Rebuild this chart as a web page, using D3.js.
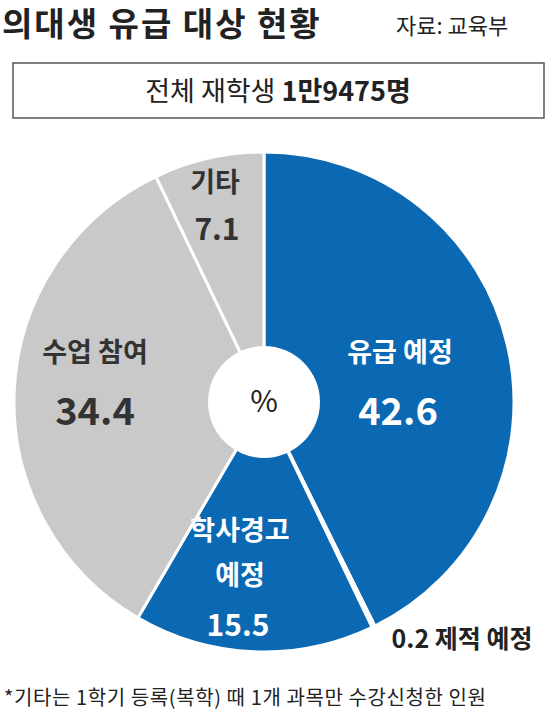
<!DOCTYPE html><html><head><meta charset="utf-8">
<script src="https://cdn.jsdelivr.net/npm/d3@7"></script>
<style>body{margin:0;background:#fff}text{font-family:"Noto Sans CJK KR","Noto Sans",sans-serif}</style></head><body>
<svg id="c" width="557" height="719"></svg>
<script>
const categories=["유급 예정","제적 예정","학사경고 예정","수업 참여","기타"];
const values=[42.6,0.2,15.5,34.4,7.1];
const colors=["#0b68b3","#0b68b3","#0b68b3","#c9c9c9","#c9c9c9"];
const svg=d3.select("#c");
svg.append("text").attr("x",2).attr("y",36).attr("font-size",33).attr("letter-spacing",2).attr("font-weight",700).attr("fill","#222").text("의대생 유급 대상 현황");
svg.append("text").attr("x",396).attr("y",34).attr("font-size",22).attr("fill","#222").text("자료: 교육부");
svg.append("rect").attr("x",13).attr("y",63).attr("width",531).attr("height",55).attr("fill","#fff").attr("stroke","#555").attr("stroke-width",1.5);
const t=svg.append("text").attr("x",278).attr("y",101).attr("text-anchor","middle").attr("font-size",27).attr("fill","#222");
t.append("tspan").text("전체 재학생 ");t.append("tspan").attr("font-weight",700).text("1만9475명");
const cx=264,cy=402,R=250;
const pie=d3.pie().sort(null).value(d=>d)(values);
const arc=d3.arc().innerRadius(0).outerRadius(R);
const g=svg.append("g").attr("transform",`translate(${cx},${cy})`);
g.selectAll("path").data(pie).join("path").attr("d",arc).attr("fill",(d,i)=>colors[i]).attr("stroke","#fff").attr("stroke-width",3);
g.append("circle").attr("r",56).attr("fill","#fff");
g.append("text").attr("y",10).attr("text-anchor","middle").attr("font-size",30).attr("fill","#222").text("%");
function lab(x,y,s,size,fill,w){svg.append("text").attr("x",x).attr("y",y).attr("text-anchor","middle").attr("font-size",size).attr("font-weight",w||700).attr("fill",fill).text(s);}
lab(400,362,categories[0],27,"#fff");lab(398,425,values[0].toFixed(1),38,"#fff");
lab(240,540,"학사경고",27,"#fff");lab(240,585,"예정",27,"#fff");lab(238,636,values[2].toFixed(1),30,"#fff");
lab(95,362,categories[3],27,"#333");lab(95,425,values[3].toFixed(1),38,"#333");
lab(215,192,categories[4],27,"#333");lab(217,240,values[4].toFixed(1),30,"#333");
lab(462,648,values[1]+" "+categories[1],25,"#222");
svg.append("text").attr("x",4).attr("y",705).attr("font-size",20).attr("letter-spacing",0.6).attr("fill","#222").text("*기타는 1학기 등록(복학) 때 1개 과목만 수강신청한 인원");
</script></body></html>
